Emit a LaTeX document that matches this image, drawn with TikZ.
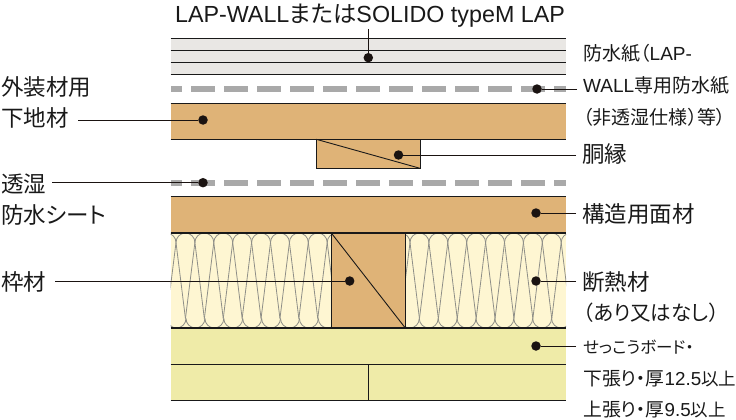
\documentclass[tikz,border=0pt]{standalone}
\usepackage{fontspec}
\setmainfont{Liberation Sans}
\newfontfamily\jp[RawFeature={+palt}]{Noto Sans CJK JP}
\newcommand{\J}[1]{{\jp #1}}
\newcommand{\fs}[1]{\fontsize{#1}{#1}\selectfont}
\tikzset{
  band/.style={line width=0.9pt,draw=black!90},
  dotm/.style={circle,fill=dotblack,draw=none,inner sep=0pt,minimum size=9.5pt},
  leader/.style={line width=0.7pt,draw=dotblack},
  lbl/.style={anchor=west,inner sep=0pt,font=\fs{19},text=black!90},
  lblbig/.style={lbl,font=\fs{22.5}},
  wool/.style={draw=woolgray,line width=0.8pt},
}
\definecolor{dashgray}{HTML}{A9A9A9}
\definecolor{dotblack}{HTML}{1A1311}
\definecolor{sidingc}{HTML}{E9E7E4}
\definecolor{woodc}{HTML}{DFB377}
\definecolor{woolc}{HTML}{FEF6D2}
\definecolor{boardc}{HTML}{EFEBA8}
\definecolor{woolgray}{HTML}{8F8F88}
\newcommand{\woolblock}[4]{% left, right, first top junction, first bottom junction
  \begin{scope}
    \clip (#1,233) rectangle (#2,328);
    \foreach \k in {-1,...,9}{
      \pgfmathsetmacro{\ta}{#3+18.9*\k}
      \pgfmathsetmacro{\tb}{\ta+18.9}
      \pgfmathsetmacro{\la}{\ta-9.45}
      \pgfmathsetmacro{\lb}{\tb+9.45}
      \draw[wool] (\la,318.5) -- (\ta,242.5) arc[start angle=180,end angle=360,radius=9.45] -- (\lb,318.5);
      \pgfmathsetmacro{\ba}{#4+18.9*\k}
      \draw[wool] (\ba,318.5) arc[start angle=180,end angle=0,radius=9.45];
    }
  \end{scope}}
\begin{document}
\begin{tikzpicture}[x=1pt,y=-1pt]
\useasboundingbox (0,0) rectangle (736,420);
% siding
\fill[sidingc] (170.7,38.3) rectangle (566,74.3);
\foreach \y in {38.3,50.3,62.3,74.3}{\draw[band] (170.7,\y) -- (566,\y);}
% dashed membranes
\foreach \y in {89,182.7}{
  \fill[dashgray] (170.7,\y-3) rectangle (182.3,\y+3);
  \foreach \k in {0,...,10}{
    \fill[dashgray] ({191.3+33*\k},\y-3) rectangle ({215.3+33*\k},\y+3);
  }
  \fill[dashgray] (554,\y-3) rectangle (566,\y+3);
}
% furring board
\fill[woodc] (170.7,103.3) rectangle (566,139.3);
\draw[band] (170.7,103.3) -- (566,103.3) (170.7,139.3) -- (566,139.3);
% batten
\draw[band,fill=woodc] (316.3,139.3) rectangle (420,168.3);
\draw[band] (316.3,139.3) -- (420,168.3);
% structural board
\fill[woodc] (170.7,196.7) rectangle (566,233);
\draw[band] (170.7,196.7) -- (566,196.7);
% insulation
\fill[woolc] (170.7,233) rectangle (331.3,328);
\fill[woolc] (405.3,233) rectangle (566,328);
\woolblock{170.7}{331.3}{176}{186}
\woolblock{405.3}{566}{410}{419.3}
% stud
\fill[woodc] (331.3,233) rectangle (405.3,328);
\draw[band,line width=1.1pt] (170.7,233) -- (566,233) (170.7,328) -- (566,328);
\draw[band,line width=1.1pt] (331.3,233) -- (331.3,328) (405.3,233) -- (405.3,328);
\draw[band] (331.3,233) -- (405.3,328);
% gypsum boards
\fill[boardc] (170.7,328.5) rectangle (566,400.7);
\draw[band] (170.7,364.3) -- (566,364.3) (170.7,400.7) -- (566,400.7) (368.3,364.3) -- (368.3,400.7);
% dots
\node[dotm] (d1) at (368.3,57.7) {};
\node[dotm] (d2) at (537,89) {};
\node[dotm] (d3) at (203,120) {};
\node[dotm] (d4) at (398.5,155) {};
\node[dotm] (d5) at (203,182.7) {};
\node[dotm] (d6) at (536,213) {};
\node[dotm] (d7) at (349.7,281) {};
\node[dotm] (d8) at (536,281) {};
\node[dotm] (d9) at (536,346) {};
% free ends
\coordinate (e1) at (368.3,29);
\coordinate (e2) at (577,89);
\coordinate (e3) at (78,120);
\coordinate (e4) at (576,155);
\coordinate (e5) at (52,182.7);
\coordinate (e6) at (576,213);
\coordinate (e7) at (55,281);
\coordinate (e8) at (576,281);
\coordinate (e9) at (576,346);
\foreach \i in {1,...,9}{\draw[leader] (e\i) -- (d\i);}
% labels
\node[anchor=center,inner sep=0pt,font=\fs{23.3},text=black!90] (t0) at (370,15.5) {LAP-WALL\J{または}SOLIDO typeM LAP};
\node[lbl] (r1) at (583,53) {\J{防水紙（}LAP-};
\node[lbl] (r2) at (583,85) {WALL\J{専用防水紙}};
\node[lbl] (r3) at (583,117) {\J{（非透湿仕様）等）}};
\node[lblbig] (r4) at (582,154) {\J{胴縁}};
\node[lblbig] (r5) at (582,214) {\J{構造用面材}};
\node[lblbig] (r6) at (582,282) {\J{断熱材}};
\node[lbl,font=\fs{20.5}] (r7) at (583,313) {\J{（あり又はなし）}};
\node[lbl,font=\fs{16.5}] (r8) at (583,347) {\J{せっこうボード・}};
\node[lbl,font=\fs{18.8}] (r9) at (583,379) {\J{下張り・厚}12.5{\fs{17.5}\J{以上}}};
\node[lbl,font=\fs{18.8}] (r10) at (583,410) {\J{上張り・厚}9.5{\fs{17.5}\J{以上}}};
\node[lblbig] (l1) at (1,87) {\J{外装材用}};
\node[lblbig] (l2) at (1,118) {\J{下地材}};
\node[lblbig] (l3) at (1,184) {\J{透湿}};
\node[lblbig] (l4) at (1,215) {\J{防水シート}};
\node[lblbig] (l5) at (1,282) {\J{枠材}};
\end{tikzpicture}
\end{document}
